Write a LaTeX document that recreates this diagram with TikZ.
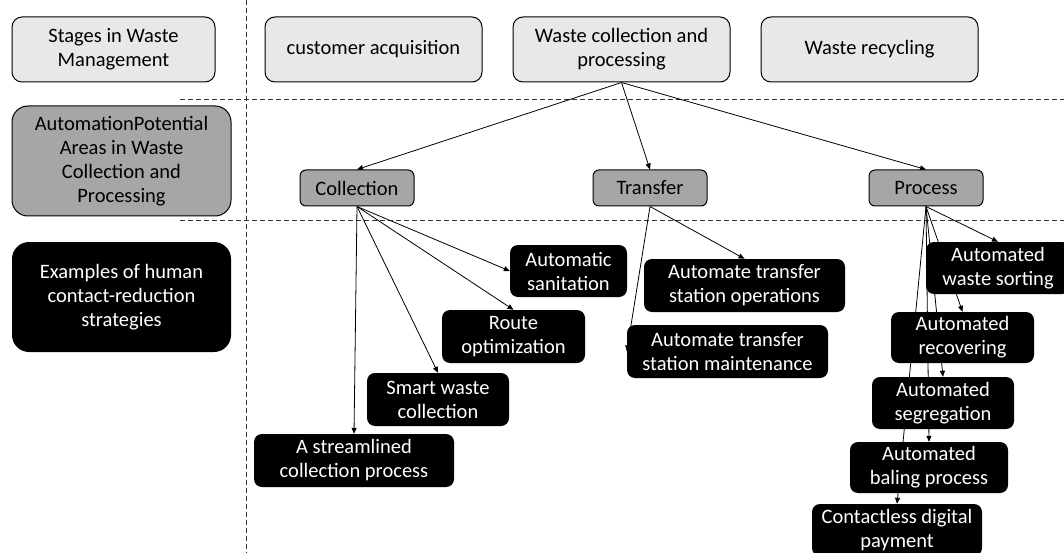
\documentclass[tikz,border=0pt]{standalone}
\usepackage{fontspec}
\setmainfont{Carlito}
\usetikzlibrary{arrows.meta,backgrounds}

\begin{document}
\begin{tikzpicture}[x=1pt,y=-1pt,font=\fontsize{20.5}{24}\selectfont,
  stage/.style={draw,fill=black!9,rounded corners=10pt,line width=1pt,inner sep=0pt,align=center,minimum width=217pt,minimum height=65pt},
  area/.style={draw,fill=black!35,rounded corners=6pt,line width=1pt,inner sep=0pt,align=center,minimum width=114pt,minimum height=36pt},
  strat/.style={fill=black,text=white,rounded corners=8pt,inner sep=0pt,align=center,minimum height=53pt},
  sep/.style={black!80,line width=1pt,dash pattern=on 5pt off 3pt},
  link/.style={-{Triangle[length=6pt,width=5pt]},line width=0.8pt}]
\clip (0,0) rectangle (1064,553);
% left column
\node[stage,minimum width=203pt](lstage) at (113.5,49.5){Stages in Waste\\Management};
\node[area,minimum width=219pt,minimum height=110pt,rounded corners=16pt](larea) at (121.5,161){AutomationPotential\\Areas in Waste\\Collection and\\Processing};
\node[strat,minimum width=219pt,minimum height=110pt,rounded corners=17pt](lstrat) at (121.5,297){Examples of human\\contact-reduction\\strategies};
% stages
\node[stage](cust) at (373.5,49.5){customer acquisition};
\node[stage](wcp) at (621.5,49.5){Waste collection and\\processing};
\node[stage](recyc) at (869.5,49.5){Waste recycling};
% areas
\node[area](coll) at (357,188){Collection};
\node[area](trans) at (650,188){Transfer};
\node[area](proc) at (926,188){Process};
% strategies
\node[strat,minimum width=200pt](stream) at (354,460.5){A streamlined\\collection process};
\node[strat,minimum width=142pt](smart) at (438,399.5){Smart waste\\collection};
\node[strat,minimum width=143pt](route) at (513.5,336.5){Route\\optimization};
\node[strat,minimum width=117pt,minimum height=52pt](sanit) at (568.5,271){Automatic\\sanitation};
\node[strat,minimum width=201pt](tops) at (744.5,285.5){Automate transfer\\station operations};
\node[strat,minimum width=201pt](tmaint) at (727.5,351.5){Automate transfer\\station maintenance};
\node[strat,minimum width=144pt,minimum height=52pt](sorting) at (998,268){Automated\\waste sorting};
\node[strat,minimum width=143pt,minimum height=51pt](recov) at (962.5,337.5){Automated\\recovering};
\node[strat,minimum width=142pt,minimum height=52pt](segr) at (943,403){Automated\\segregation};
\node[strat,minimum width=158pt,minimum height=51pt](baling) at (929,467.5){Automated\\baling process};
\node[strat,minimum width=170pt,minimum height=52pt](payment) at (897,530){Contactless digital\\payment};

\begin{scope}[on background layer]
\draw[sep] (246,0) -- (246,553);
\draw[sep] (180,100) -- (1064,100);
\draw[sep] (180,221) -- (1064,221);
\draw[link] (wcp.south) -- (coll.north);
\draw[link] (wcp.south) -- (trans.north);
\draw[link] (wcp.south) -- (proc.north);
\draw[link] (coll.south) -- (stream.north);
\draw[link] (coll.south) -- (smart.north);
\draw[link] (coll.south) -- (route.north);
\draw[link] (coll.south) -- (sanit.west);
\draw[link] (trans.south) -- (tops.north);
\draw[link] (trans.south) -- (tmaint.west);
\draw[link] (proc.south) -- (sorting.north);
\draw[link] (proc.south) -- (recov.north);
\draw[link] (proc.south) -- (segr.north);
\draw[link] (proc.south) -- (baling.north);
\draw[link] (proc.south) -- (payment.north);
\end{scope}
\end{tikzpicture}
\end{document}
